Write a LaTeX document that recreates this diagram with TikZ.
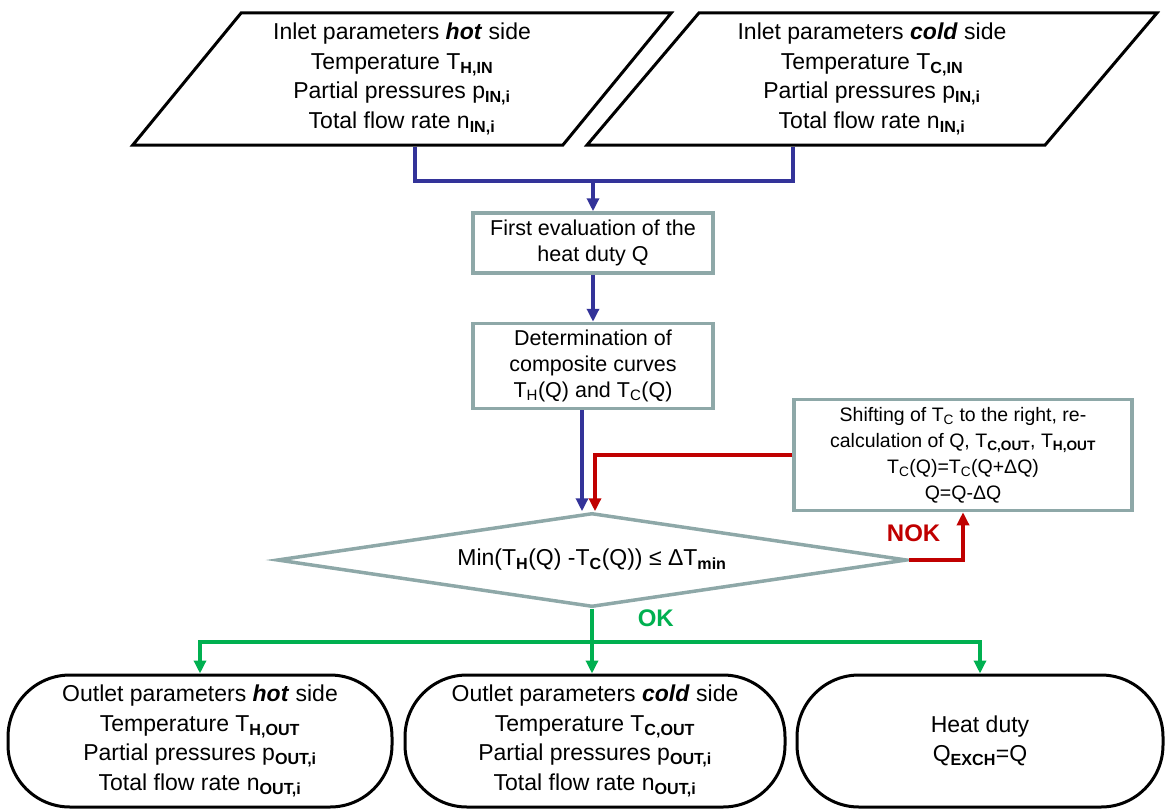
\documentclass[tikz,border=0pt]{standalone}
\usepackage{fontspec}
\setmainfont{Liberation Sans}
\usepackage{xcolor}
\usepackage{tikz}
\usetikzlibrary{shapes.geometric, arrows.meta, calc}
\definecolor{frame}{HTML}{8EA8A8}
\definecolor{loop}{HTML}{333399}
\definecolor{nok}{HTML}{C00000}
\definecolor{ok}{HTML}{00B050}
\newcommand{\bsub}[1]{\textsubscript{\textbf{#1}}}
\newcommand{\nsub}[1]{\textsubscript{#1}}

\begin{document}
\begin{tikzpicture}
    [x=1pt, y=-1pt,
     Box io/.style={draw=black, line width=3pt, shape=trapezium,
        trapezium left angle=53, trapezium right angle=127,
        trapezium stretches=true, minimum height=132pt,
        align=center, font=\fontsize{23}{29.5}\selectfont},
     Box calc/.style={draw=frame, line width=3.5pt, inner sep=0pt,
        align=center, font=\fontsize{21.5}{26}\selectfont},
     Box check/.style={draw=frame, line width=3.5pt, shape=diamond,
        aspect=6.7, inner sep=0pt, font=\fontsize{23}{26}\selectfont},
     Box out/.style={draw=black, line width=3pt, rounded corners=62pt,
        minimum height=132pt, align=center, font=\fontsize{23}{29.5}\selectfont},
     Line blue/.style={line width=3.5pt, color=loop},
     Flow blue/.style={->, line width=3.5pt, color=loop},
     Flow red/.style={->, line width=3.5pt, color=nok},
     Line green/.style={line width=3.5pt, color=ok},
     Flow green/.style={->, line width=3.5pt, color=ok},
    >={Triangle[length=13pt, width=12pt]}
    ]
\useasboundingbox (0,0) rectangle (1169,808);

%inlet streams
\node[Box io, minimum width=539pt] (hotin) at (402,79)
    {Inlet parameters \textbf{\textit{hot}} side\\Temperature T\bsub{H,IN}\\
     Partial pressures p\bsub{IN,i}\\Total flow rate n\bsub{IN,i}};
\node[Box io, minimum width=572pt] (coldin) at (872,79)
    {Inlet parameters \textbf{\textit{cold}} side\\Temperature T\bsub{C,IN}\\
     Partial pressures p\bsub{IN,i}\\Total flow rate n\bsub{IN,i}};

%calculation steps
\node[Box calc, minimum width=240pt, minimum height=60pt] (first) at (593,243)
    {First evaluation of the\\heat duty Q};
\node[Box calc, minimum width=240pt, minimum height=85pt] (det) at (593,366)
    {Determination of\\composite curves\\T\nsub{H}(Q) and T\nsub{C}(Q)};
\node[Box calc, minimum width=338pt, minimum height=111pt,
      font=\fontsize{19.5}{26}\selectfont] (shift) at (963,455)
    {Shifting of T\nsub{C} to the right, re-\\calculation of Q, T\bsub{C,OUT}, T\bsub{H,OUT}\\
     T\nsub{C}(Q)=T\nsub{C}(Q+ΔQ)\\Q=Q-ΔQ};
\node[Box check, minimum width=630pt, minimum height=94pt] (check) at (592,560)
    {Min(T\bsub{H}(Q) -T\bsub{C}(Q)) ≤ ΔT\bsub{min}};

%results
\node[Box out, minimum width=384pt] (hotout) at (200,741)
    {Outlet parameters \textbf{\textit{hot}} side\\Temperature T\bsub{H,OUT}\\
     Partial pressures p\bsub{OUT,i}\\Total flow rate n\bsub{OUT,i}};
\node[Box out, minimum width=380pt] (coldout) at (595,741)
    {Outlet parameters \textbf{\textit{cold}} side\\Temperature T\bsub{C,OUT}\\
     Partial pressures p\bsub{OUT,i}\\Total flow rate n\bsub{OUT,i}};
\node[Box out, minimum width=366pt] (duty) at (980,741)
    {Heat duty\\Q\bsub{EXCH}=Q};

\coordinate (merge) at (593,181);
\coordinate (split) at (592,642);

\draw[Line blue] ([xshift=13pt]hotin.south) |- (merge);
\draw[Line blue] ([xshift=-79pt]coldin.south) |- (merge);
\draw[Flow blue] (merge) -- (first);
\draw[Flow blue] (first) -- (det);
\draw[Flow blue] ([xshift=-11pt]det.south) -- ([xshift=-11pt]det.south |- check.north);

\draw[Flow red] (shift.west) -| ([xshift=3pt]check.north);
\draw[Flow red] (check.east) -| node[pos=0.5, anchor=south east, inner sep=0pt,
    xshift=-21pt, yshift=17pt, font=\fontsize{24}{24}\selectfont\bfseries]{NOK} (shift.south);

\draw[Line green] (check.south) -- node[pos=0, anchor=north west, inner sep=0pt,
    xshift=44pt, yshift=1pt, font=\fontsize{24}{24}\selectfont\bfseries]{OK} (split);
\draw[Flow green] (split) -| (hotout.north);
\draw[Flow green] (split) -- (split |- coldout.north);
\draw[Flow green] (split) -| (duty.north);

\end{tikzpicture}
\end{document}
